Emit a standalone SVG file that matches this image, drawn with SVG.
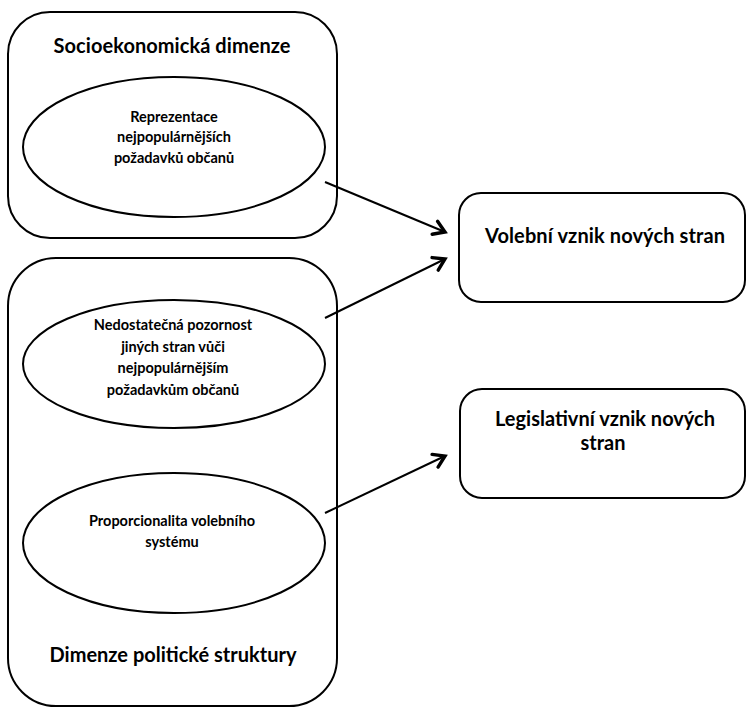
<svg xmlns="http://www.w3.org/2000/svg" width="746" height="710" viewBox="0 0 746 710">
<style>
.box{fill:#fff;stroke:#000;stroke-width:2}
.ell{fill:#fff;stroke:#000;stroke-width:2}
.t{font-family:Lato,"Liberation Sans",sans-serif;font-weight:bold;fill:#000;text-anchor:middle}
.big{font-size:20px}
.sm{font-size:14.5px}
.con{stroke:#000;stroke-width:2;fill:none}
</style>
<defs>
<marker id="ah" markerUnits="userSpaceOnUse" markerWidth="20" markerHeight="20" refX="13" refY="8" orient="auto" viewBox="0 0 20 16">
<path d="M2,1 L13,8 L2,15" fill="none" stroke="#000" stroke-width="3.4" stroke-linecap="round" stroke-linejoin="miter"/>
</marker>
</defs>
<g id="socio">
<rect class="box" x="8" y="12" width="329" height="226" rx="42"/>
<text class="t big" x="172" y="53" textLength="237">Socioekonomická dimenze</text>
</g>
<g id="reprezentace">
<ellipse class="ell" cx="174" cy="147" rx="151" ry="70"/>
<text class="t sm" x="174" y="122">Reprezentace</text>
<text class="t sm" x="174" y="142">nejpopulárnějších</text>
<text class="t sm" x="174" y="163">požadavků občanů</text>
</g>
<g id="politicka">
<rect class="box" x="8" y="258" width="329" height="448" rx="48"/>
<text class="t big" x="173" y="662" textLength="247">Dimenze politické struktury</text>
</g>
<g id="pozornost">
<ellipse class="ell" cx="174" cy="364" rx="151" ry="64"/>
<text class="t sm" x="173" y="330">Nedostatečná pozornost</text>
<text class="t sm" x="173" y="352">jiných stran vůči</text>
<text class="t sm" x="173" y="373">nejpopulárnějším</text>
<text class="t sm" x="173" y="395">požadavkům občanů</text>
</g>
<g id="proporcionalita">
<ellipse class="ell" cx="174" cy="543" rx="151" ry="70"/>
<text class="t sm" x="172" y="526">Proporcionalita volebního</text>
<text class="t sm" x="172" y="547">systému</text>
</g>
<g id="volebni">
<rect class="box" x="459" y="193" width="286" height="109" rx="22"/>
<text class="t big" x="605" y="243" textLength="240">Volební vznik nových stran</text>
</g>
<g id="legislativni">
<rect class="box" x="460" y="389" width="285" height="109" rx="22"/>
<text class="t big" x="605" y="426" textLength="220">Legislativní vznik nových</text>
<text class="t big" x="603" y="450">stran</text>
</g>
<g id="connectors">
<line class="con" x1="325" y1="182" x2="445" y2="232" marker-end="url(#ah)"/>
<line class="con" x1="325" y1="318" x2="445" y2="259" marker-end="url(#ah)"/>
<line class="con" x1="325" y1="513" x2="445" y2="456" marker-end="url(#ah)"/>
</g>
</svg>
